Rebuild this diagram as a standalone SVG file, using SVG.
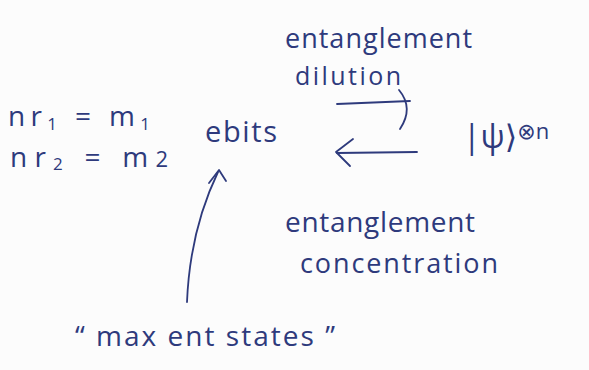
<svg xmlns="http://www.w3.org/2000/svg" width="589" height="370" viewBox="0 0 589 370">
<style>
.t{font-family:"Open Sans","DejaVu Sans",sans-serif;fill:#2e3a7c;font-weight:400}
.c{fill:none;stroke:#2e3a7c;stroke-width:1.8;stroke-linecap:round;stroke-linejoin:round}
</style>
<rect width="589" height="370" fill="#fcfcfc"/>
<g id="eq1"><text class="t" x="8" y="126" font-size="28" textLength="142" lengthAdjust="spacing">nr<tspan font-size="17" dy="4">1</tspan><tspan dy="-4"> = m</tspan><tspan font-size="17" dy="4">1</tspan></text></g>
<g id="eq2"><text class="t" x="10" y="167" font-size="28" textLength="158" lengthAdjust="spacing">nr<tspan font-size="17" dy="3">2</tspan><tspan dy="-3"> = m</tspan><tspan font-size="22" dy="0">2</tspan></text></g>
<g id="ebits"><text class="t" x="205" y="142" font-size="29" textLength="72" lengthAdjust="spacing">ebits</text></g>
<g id="dilution"><text class="t" x="285" y="48" font-size="27" textLength="187" lengthAdjust="spacing">entanglement</text><text class="t" x="295" y="85" font-size="25" textLength="106" lengthAdjust="spacing">dilution</text></g>
<g id="psi"><text class="t" x="463" y="148" font-size="32">|ψ⟩<tspan font-size="22" dy="-9">⊗n</tspan></text></g>
<g id="concentration"><text class="t" x="285" y="232" font-size="28" textLength="190" lengthAdjust="spacing">entanglement</text><text class="t" x="300" y="273" font-size="27" textLength="198" lengthAdjust="spacing">concentration</text></g>
<g id="maxent"><text class="t" x="75" y="346" font-size="28" textLength="260" lengthAdjust="spacing">“ max ent states ”</text></g>
<g id="connectors">
<path class="c" d="M337 104 L410 101"/>
<path class="c" d="M399 90 Q414 108 400 129"/>
<path class="c" d="M417 152 L337 153"/>
<path class="c" d="M353 139 L336 152 L350 166"/>
<path class="c" d="M187 302 Q190 230 218 172"/>
<path class="c" d="M209 183 L219 170 L226 181"/>
</g>
</svg>
